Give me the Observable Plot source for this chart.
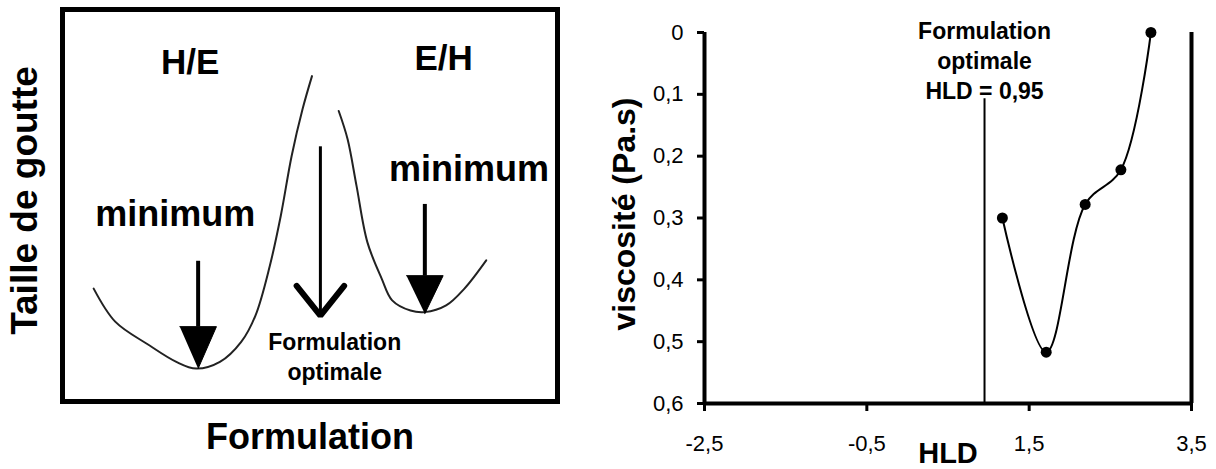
<!DOCTYPE html>
<html><head><meta charset="utf-8">
<script src="https://cdn.jsdelivr.net/npm/d3@7"></script>
<script src="https://cdn.jsdelivr.net/npm/@observablehq/plot@0.6"></script>
<style>
html,body{margin:0;padding:0;background:#fff;}
#wrap{position:relative;width:1216px;height:469px;overflow:hidden;}
#left{position:absolute;left:0;top:0;}
#right{position:absolute;left:580px;top:0;}
svg{font-family:"Liberation Sans",Arial,sans-serif;}
</style></head><body><div id="wrap"><div id="left"></div><div id="right"></div></div>
<script>
// ---------- Left schematic panel (arbitrary units 0–100) ----------
const heCurveX = [6.3, 10.7, 17.2, 23.0, 27.0, 31.8, 36.1, 39.0, 41.9, 44.1, 46.3, 48.5, 50.4];
const heCurveY = [28.8, 20.3, 14.6, 10.1, 8.4, 10.1, 15.2, 22.0, 34.7, 47.4, 62.7, 74.6, 83.0];
const ehCurveX = [55.8, 57.6, 59.4, 61.6, 64.5, 66.6, 70.3, 73.2, 77.5, 81.2, 85.6];
const ehCurveY = [74.1, 66.9, 55.0, 40.6, 31.3, 25.8, 23.2, 22.8, 24.5, 28.8, 36.0];
// arrows: x, shaft top, head top, tip
const minArrowX = [27.4, 73.2];
const minArrowTop = [35.9, 50.4];
const minArrowHead = [19.1, 32.1];
const minArrowTip = [8.4, 22.4];
const headHalf = 3.7;
const optArrowX = 52.1, optArrowTop = 65.1, optArrowTip = 21.9, optArmY = 29.5, optArmHalf = 4.8;
const leftLabels = ["H/E", "E/H", "minimum", "minimum"];
const leftLabelX = [25.8, 77.0, 22.8, 82.1];
const leftLabelY = [86.3, 87.5, 47.7, 59.2];
const optText = "Formulation\noptimale";
const optTextX = 55.0, optTextY = 18.6;

const idx = n => d3.range(n);
const heads = idx(2).flatMap(i => [
  {g: i, x: minArrowX[i] - headHalf, y: minArrowHead[i]},
  {g: i, x: minArrowX[i] + headHalf, y: minArrowHead[i]},
  {g: i, x: minArrowX[i], y: minArrowTip[i]}
]);
const chevron = [
  {x: optArrowX - optArmHalf, y: optArmY},
  {x: optArrowX, y: optArrowTip},
  {x: optArrowX + optArmHalf, y: optArmY}
];

const leftPlot = Plot.plot({
  width: 580, height: 469,
  marginLeft: 62, marginRight: 23, marginTop: 9, marginBottom: 68,
  style: {fontFamily: '"Liberation Sans", Arial, sans-serif', fontSize: "20px", background: "#fff"},
  x: {domain: [0, 100], axis: null},
  y: {domain: [0, 100], axis: null},
  marks: [
    Plot.line(idx(heCurveX.length), {x: i => heCurveX[i], y: i => heCurveY[i], curve: "catmull-rom", stroke: "#222", strokeWidth: 2}),
    Plot.line(idx(ehCurveX.length), {x: i => ehCurveX[i], y: i => ehCurveY[i], curve: "catmull-rom", stroke: "#222", strokeWidth: 2}),
    Plot.link(idx(2), {x1: i => minArrowX[i], x2: i => minArrowX[i], y1: i => minArrowTop[i], y2: i => minArrowHead[i], stroke: "#000", strokeWidth: 4}),
    Plot.line(heads, {x: "x", y: "y", z: "g", fill: "#000", stroke: "#000", strokeWidth: 1}),
    Plot.link([0], {x1: optArrowX, x2: optArrowX, y1: optArrowTop, y2: optArrowTip, stroke: "#000", strokeWidth: 3}),
    Plot.line(chevron, {x: "x", y: "y", stroke: "#000", strokeWidth: 6, strokeLinejoin: "miter"}),
    Plot.text(idx(2), {x: i => leftLabelX[i], y: i => leftLabelY[i], text: i => leftLabels[i], fontSize: 35, fontWeight: "bold", fill: "#000"}),
    Plot.text([2, 3], {x: i => leftLabelX[i], y: i => leftLabelY[i], text: i => leftLabels[i], fontSize: 36, fontWeight: "bold", fill: "#000"}),
    Plot.text([optText], {x: optTextX, y: optTextY, text: d => d, lineAnchor: "top", lineHeight: 1.3, fontSize: 23, fontWeight: "bold", fill: "#000"}),
    Plot.text(["Formulation"], {frameAnchor: "bottom", dy: 36, lineAnchor: "middle", fontSize: 36, fontWeight: "bold", fill: "#000"}),
    Plot.text(["Taille de goutte"], {frameAnchor: "left", dx: -37, dy: -5, rotate: -90, textAnchor: "middle", lineAnchor: "middle", fontSize: 37, fontWeight: "bold", fill: "#000"}),
    Plot.frame({stroke: "#000", strokeWidth: 5})
  ]
});
document.getElementById("left").appendChild(leftPlot);

// ---------- Right panel: viscosity vs HLD ----------
const hld = [1.17, 1.71, 2.19, 2.63, 3.0];
const viscosite = [0.30, 0.517, 0.278, 0.222, 0.0];
const xTicks = [-2.5, -0.5, 1.5, 3.5];
const yTicks = [0, 0.1, 0.2, 0.3, 0.4, 0.5, 0.6];
const optimalHLD = 0.95;
const optimalLineTop = 0.107;
const optimalLabel = "Formulation\noptimale\nHLD = 0,95";
const fmt = d => d === 0 ? "0" : d3.format(".1f")(d).replace(".", ",").replace("\u2212", "-");
const pts = idx(hld.length).map(i => ({hld: hld[i], v: viscosite[i]}));

const rightPlot = Plot.plot({
  width: 636, height: 469,
  marginLeft: 124, marginRight: 25, marginTop: 32, marginBottom: 66,
  style: {fontFamily: '"Liberation Sans", Arial, sans-serif', fontSize: "21px", background: "#fff", color: "#000"},
  x: {domain: [-2.5, 3.5]},
  y: {domain: [0, 0.6], reverse: true},
  marks: [
    Plot.axisY({ticks: yTicks, tickSize: 7, tickPadding: 14, tickFormat: fmt, strokeWidth: 3, label: null, fontSize: 22}),
    Plot.axisX({ticks: xTicks, tickSize: 8, tickPadding: 24, tickFormat: fmt, strokeWidth: 3, label: null, fontSize: 22}),
    Plot.ruleX([xTicks[0]], {y1: yTicks[0], y2: yTicks[yTicks.length - 1], stroke: "#000", strokeWidth: 4}),
    Plot.ruleX([xTicks[xTicks.length - 1]], {y1: yTicks[0], y2: yTicks[yTicks.length - 1], stroke: "#000", strokeWidth: 4}),
    Plot.ruleY([yTicks[yTicks.length - 1]], {x1: xTicks[0], x2: xTicks[xTicks.length - 1], stroke: "#000", strokeWidth: 4}),
    Plot.ruleX([optimalHLD], {y1: optimalLineTop, y2: 0.6, stroke: "#000", strokeWidth: 2}),
    Plot.line(pts, {x: "hld", y: "v", curve: "catmull-rom", stroke: "#000", strokeWidth: 2}),
    Plot.dot(pts, {x: "hld", y: "v", r: 5.5, fill: "#000", stroke: "none"}),
    Plot.text([optimalLabel], {x: () => optimalHLD, frameAnchor: "top", dy: -15, lineAnchor: "top", lineHeight: 1.3, text: d => d, fontSize: 23, fontWeight: "bold", fill: "#000"}),
    Plot.text(["HLD"], {frameAnchor: "bottom", dy: 50, lineAnchor: "middle", fontSize: 29, fontWeight: "bold", fill: "#000"}),
    Plot.text(["viscosité (Pa.s)"], {frameAnchor: "left", dx: -80, dy: -4, rotate: -90, textAnchor: "middle", lineAnchor: "middle", fontSize: 32, fontWeight: "bold", fill: "#000"})
  ]
});
document.getElementById("right").appendChild(rightPlot);
</script></body></html>
